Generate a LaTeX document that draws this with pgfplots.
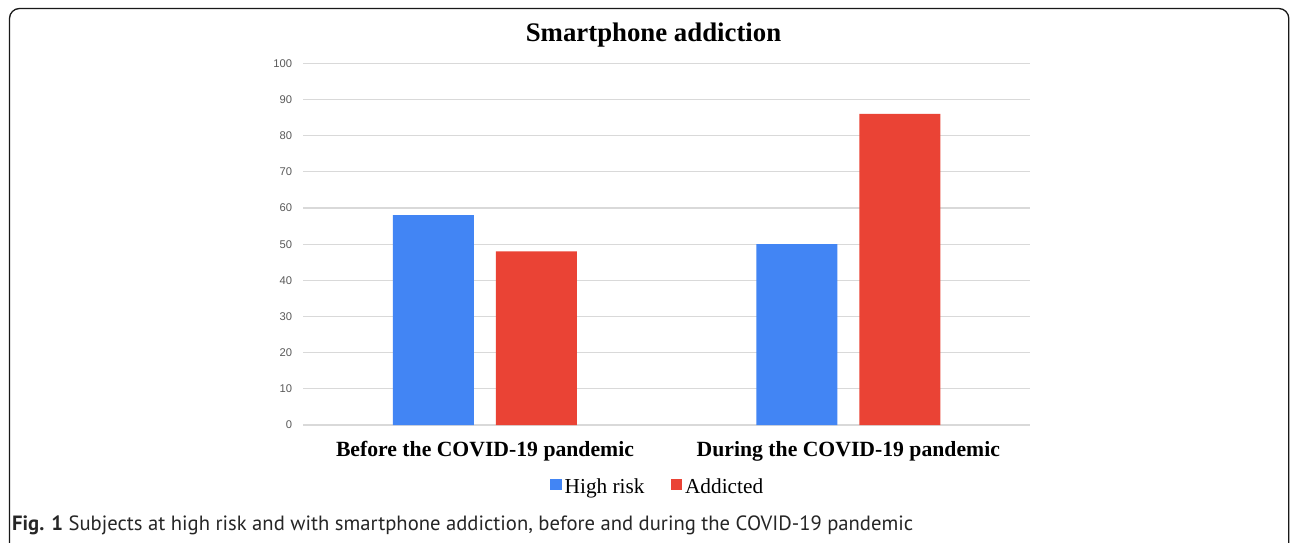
\documentclass[border=0pt]{standalone}
\usepackage{fontspec}
\setmainfont{Liberation Serif}
\newfontfamily\arialfont{Liberation Sans}
\newfontfamily\capfont{PT Sans}
\usepackage{pgfplots}
\pgfplotsset{compat=1.18}

\definecolor{hrblue}{HTML}{4285F4}
\definecolor{adred}{HTML}{EA4335}
\definecolor{gridgray}{HTML}{D9D9D9}
\definecolor{ticktext}{HTML}{5A5A5A}

\begin{document}
\begin{tikzpicture}[x=1pt,y=1pt]
\path[use as bounding box] (0,0) rectangle (1290,542);
\fill[white] (0,0) rectangle (1290,542);
% frame round the figure
\draw[line width=1.3pt, color=black!90, rounded corners=10pt] (9.5,-30) rectangle (1288.8,533.5);
\node[anchor=base, inner sep=0pt, font=\bfseries\fontsize{26.8}{30}\selectfont] at (653.5,500.3) {Smartphone addiction};

\begin{axis}[
  at={(303.3pt,117pt)}, anchor=south west,
  scale only axis, width=726.7pt, height=361.7pt,
  xmin=-0.5, xmax=1.5, ymin=0, ymax=100,
  axis line style={draw=none},
  ymajorgrids, grid style={gridgray, line width=1.2pt},
  ytick={0,10,...,100}, xtick={0,1},
  xticklabels={Before the COVID-19 pandemic, During the COVID-19 pandemic},
  major tick length=0pt,
  tick style={draw=none},
  /pgf/number format/assume math mode=true,
  yticklabel style={font=\arialfont\fontsize{11.2}{13}\selectfont, text=ticktext, inner sep=0pt, xshift=-11pt},
  xticklabel style={font=\bfseries\fontsize{21.7}{24}\selectfont, anchor=base, inner sep=0pt, yshift=-31.7pt},
  ybar, bar width=81pt,
  legend style={draw=none, fill=none, inner sep=0pt, at={(0.3395,-0.148)}, anchor=north west,
    font=\fontsize{21.3}{24}\selectfont, nodes={inner sep=0pt},
    /tikz/every odd column/.append style={column sep=3pt},
    /tikz/every even column/.append style={column sep=26pt}},
  legend columns=2,
  legend image code/.code={\fill[#1,draw=none] (0pt,-3pt) rectangle (11.5pt,8.5pt);},
]
\addplot[fill=hrblue, draw=none, bar shift=-51.5pt] coordinates {(0,58) (1,50)};
\addlegendentry{High risk}
\addplot[fill=adred, draw=none, bar shift=51.5pt] coordinates {(0,48) (1,86)};
\addlegendentry{Addicted}
\end{axis}

\node[anchor=base west, inner sep=0pt, font=\capfont\fontsize{20.65}{24}\selectfont, text=black!85] at (12,12)
  {\textbf{Fig. 1} Subjects at high risk and with smartphone addiction, before and during the COVID-19 pandemic};
\end{tikzpicture}
\end{document}
